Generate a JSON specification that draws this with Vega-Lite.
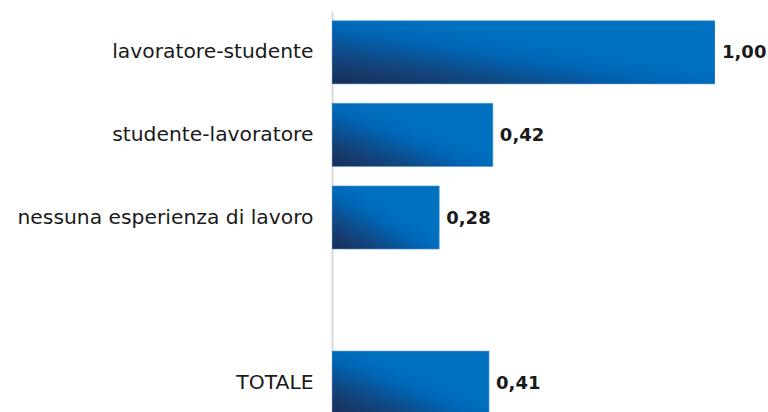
{
  "$schema": "https://vega.github.io/schema/vega-lite/v6.json",
  "autosize": "none",
  "width": 383,
  "height": 401,
  "padding": {"left": 332, "top": 11, "right": 53, "bottom": 0},
  "background": "white",
  "data": {"values": [
    {"categoria": "lavoratore-studente", "valore": 1.00, "etichetta": "1,00"},
    {"categoria": "studente-lavoratore", "valore": 0.42, "etichetta": "0,42"},
    {"categoria": "nessuna esperienza di lavoro", "valore": 0.28, "etichetta": "0,28"},
    {"categoria": "TOTALE", "valore": 0.41, "etichetta": "0,41"}
  ]},
  "encoding": {
    "y": {
      "field": "categoria", "type": "nominal",
      "scale": {"domain": ["lavoratore-studente", "studente-lavoratore", "nessuna esperienza di lavoro", "", "TOTALE"], "range": [0, 413], "paddingInner": 0.235, "paddingOuter": 0.1175},
      "axis": {"title": null, "ticks": false, "domainColor": "#d9d9d9", "domainWidth": 2, "labelPadding": 19, "labelLimit": 0, "labelFont": "DejaVu Sans", "labelFontSize": 20.3, "labelColor": "#1a1a1a", "labelFontWeight": "normal"}
    },
    "x": {"field": "valore", "type": "quantitative", "scale": {"domain": [0, 1], "nice": false}, "axis": null}
  },
  "layer": [
    {
      "mark": {"type": "bar", "clip": true, "stroke": "#5a9ad6", "strokeWidth": 0.6,
        "color": {"gradient": "linear", "x1": 0, "y1": 1, "x2": 1, "y2": 0,
          "stops": [{"offset": 0, "color": "#1a2e55"}, {"offset": 0.22, "color": "#12467f"}, {"offset": 0.45, "color": "#0066b6"}, {"offset": 0.6, "color": "#0070c0"}, {"offset": 1, "color": "#0070c0"}]}}
    },
    {
      "mark": {"type": "text", "align": "left", "baseline": "middle", "dx": 7, "dy": 1, "font": "DejaVu Sans", "fontSize": 18, "fontWeight": "bold", "color": "#1a1a1a"},
      "encoding": {"text": {"field": "etichetta"}}
    }
  ],
  "config": {"view": {"stroke": null}}
}
